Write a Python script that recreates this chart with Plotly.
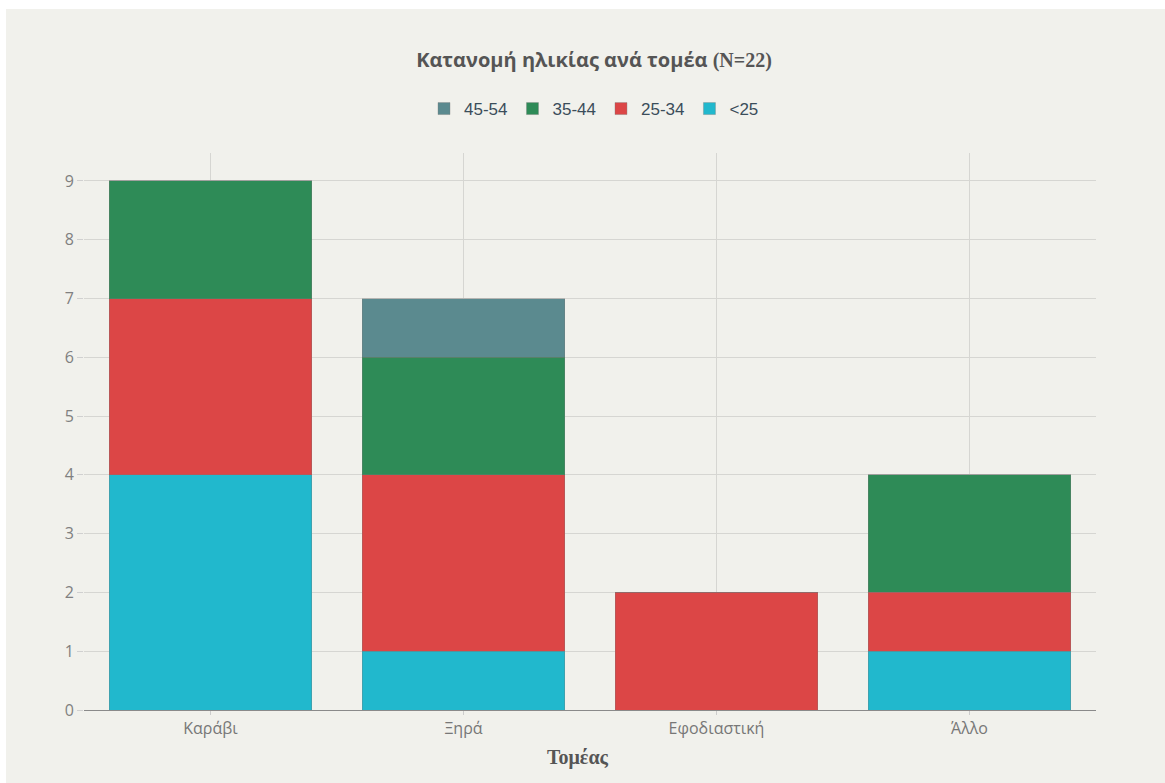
import plotly.graph_objects as go

# Sectors and age-group counts (stacked)
sectors = ["Καράβι", "Ξηρά", "Εφοδιαστική", "Άλλο"]
age_groups = ["<25", "25-34", "35-44", "45-54"]
under_25 = [4, 1, 0, 1]
age_25_34 = [3, 3, 2, 1]
age_35_44 = [2, 2, 0, 2]
age_45_54 = [0, 1, 0, 0]
series = [under_25, age_25_34, age_35_44, age_45_54]
colors = ["#21b8cd", "#dc4646", "#2e8b57", "#5b8a8f"]

W, H = 1165, 783
ML, MR, MT, MB = 84, 69, 153, 73
PW = W - ML - MR
PH = H - MT - MB
BG = "#f1f1ec"


def px_x(px):
    return (px - ML) / PW


def px_y(py):
    return (H - MB - py) / PH


fig = go.Figure()
for name, vals, col in zip(age_groups, series, colors):
    fig.add_trace(go.Bar(
        x=sectors, y=vals, name=name,
        marker=dict(color=col, line=dict(color="rgba(120,120,120,0.35)", width=1)),
    ))

# grey canvas area leaving a thin white edge at the top and left
fig.add_shape(
    type="rect", xref="paper", yref="paper", layer="below",
    x0=px_x(6), x1=px_x(W), y0=px_y(H), y1=px_y(9),
    fillcolor=BG, line=dict(width=0),
)

fig.add_annotation(
    text="<b>Τομέας</b>", xref="paper", yref="paper",
    x=px_x(578), y=px_y(757), xanchor="center", yanchor="middle",
    showarrow=False,
    font=dict(family="Liberation Serif", size=20, color="#555555"),
)

fig.update_layout(
    width=W, height=H,
    margin=dict(l=ML, r=MR, t=MT, b=MB),
    barmode="stack", bargap=0.2,
    paper_bgcolor="white", plot_bgcolor=BG,
    title=dict(
        text="<b>Κατανομή ηλικίας ανά τομέα</b> "
             "<span style='font-family:Liberation Serif'><b>(N=22)</b></span>",
        x=594 / W, xanchor="center", y=1 - 60 / H, yanchor="middle",
        font=dict(family="Open Sans", size=20, color="#555555"),
    ),
    legend=dict(
        orientation="h", traceorder="reversed",
        x=px_x(594), xanchor="center", y=px_y(109), yanchor="middle",
        font=dict(family="Liberation Sans", size=17, color="#3b4d5a"),
        bgcolor="rgba(0,0,0,0)",
    ),
    xaxis=dict(
        showgrid=True, gridcolor="#d6d6d2", gridwidth=1,
        showline=True, linecolor="#8a8a8a", linewidth=1,
        ticks="outside", ticklen=4, tickcolor="#cccccc",
        tickfont=dict(family="Open Sans", size=16, color="#777777"),
    ),
    yaxis=dict(
        range=[0, 9.476], dtick=1,
        showgrid=True, gridcolor="#d6d6d2", gridwidth=1,
        zeroline=False,
        ticks="outside", ticklen=6, tickcolor="#d0d0d0",
        tickfont=dict(family="Open Sans", size=16, color="#808080"),
    ),
)

fig.write_html("out.html")
